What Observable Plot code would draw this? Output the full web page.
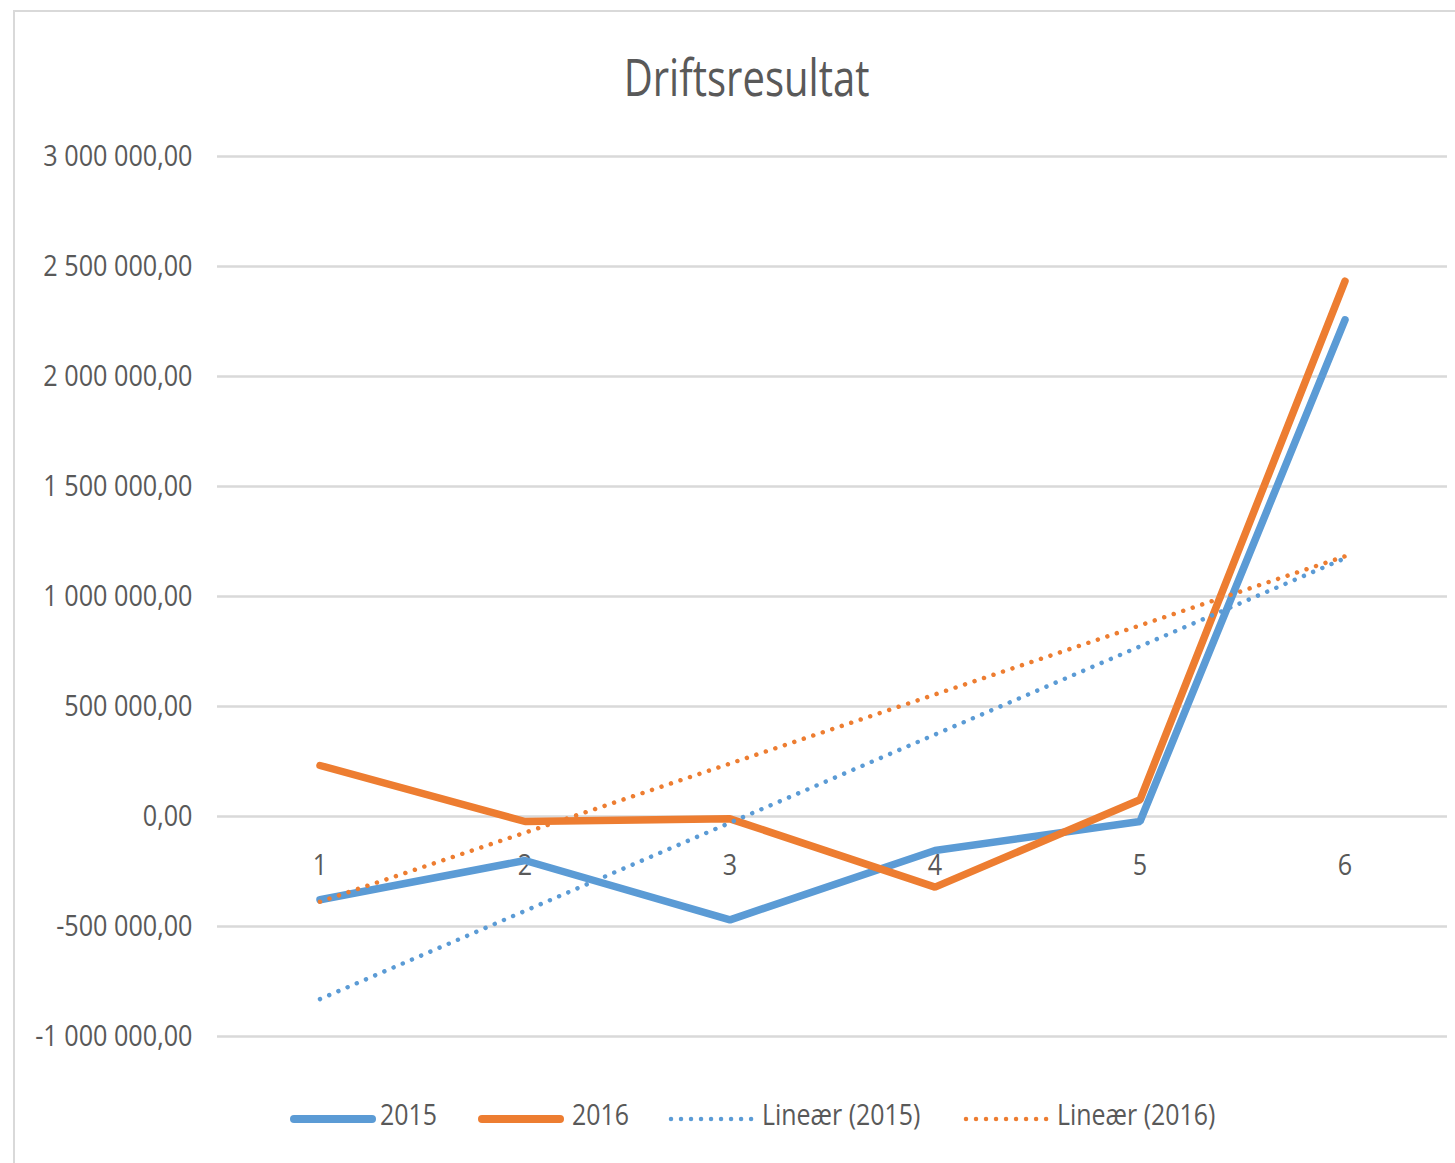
<!DOCTYPE html>
<html>
<head>
<meta charset="utf-8">
<script src="https://cdn.jsdelivr.net/npm/d3@7"></script>
<script src="https://cdn.jsdelivr.net/npm/@observablehq/plot@0.6"></script>
<style>
  html, body { margin: 0; padding: 0; background: #fff; }
  body { width: 1455px; height: 1163px; position: relative; overflow: hidden;
         font-family: "Open Sans", "Liberation Sans", sans-serif; color: #595959; }
  #frame { position: absolute; left: 13px; top: 10px; width: 1500px; height: 1200px;
           border-left: 2.5px solid #d9d9d9; border-top: 2.5px solid #d9d9d9; box-sizing: border-box; }
  #title { position: absolute; left: 0; width: 1494px; top: 44px; text-align: center; font-size: 52px; line-height: 64px; }
  #title span { display: inline-block; transform: scaleX(0.77); transform-origin: center; }
  #chart { position: absolute; left: 0; top: 0; }
  #legend { position: absolute; top: 1094px; left: 0; width: 1455px; height: 40px; }
  .sw { position: absolute; top: 14px; }
  .lt { position: absolute; top: 0; font-size: 30px; line-height: 40px; transform: scaleX(0.83); transform-origin: left center; white-space: nowrap; }
</style>
</head>
<body>
<div id="frame"></div>
<div id="title"><span>Driftsresultat</span></div>
<div id="chart"></div>
<div id="legend"></div>
<script>
// ---- data ----
const periods = [1, 2, 3, 4, 5, 6];
const values2015 = [-378600, -200000, -469700, -154500, -22700, 2257600];
const values2016 = [231800, -22700, -10600, -321000, 75800, 2433000];
const yTicks = [-1000000, -500000, 0, 500000, 1000000, 1500000, 2000000, 2500000, 3000000];
const seriesNames = ["2015", "2016", "Lineær (2015)", "Lineær (2016)"];
const colors = {"2015": "#5B9BD5", "2016": "#ED7D31"};

const rows2015 = periods.map((p, i) => ({x: p, y: values2015[i]}));
const rows2016 = periods.map((p, i) => ({x: p, y: values2016[i]}));

const fmt = d3.formatLocale({decimal: ",", thousands: " ", grouping: [3], currency: ["", ""], minus: "-"}).format(",.2f");

const W = 1455, H = 1070;
const dotted = "0.01 10";

const plot = Plot.plot({
  width: W,
  height: H,
  marginLeft: 217,
  marginRight: 8,
  marginTop: 156,
  marginBottom: H - 1036,
  style: {fontFamily: '"Open Sans", "Liberation Sans", sans-serif', background: "transparent"},
  x: {type: "linear", domain: [0.5, 6.5], axis: null},
  y: {domain: [-1000000, 3000000], axis: null},
  marks: [
    Plot.ruleY(yTicks, {stroke: "#d9d9d9", strokeWidth: 2.5, strokeOpacity: 1}),
    Plot.text(yTicks, {x: 0.5, y: d => d, text: d => fmt(d), textAnchor: "end", dx: -25, fontSize: 30, fill: "#595959"}),
    Plot.text(periods, {x: d => d, y: 0, text: d => String(d), dy: 49, fontSize: 30, fill: "#595959"}),
    Plot.line(rows2015, {x: "x", y: "y", stroke: colors["2015"], strokeWidth: 7.5, strokeLinecap: "round", strokeLinejoin: "miter"}),
    Plot.line(rows2016, {x: "x", y: "y", stroke: colors["2016"], strokeWidth: 7.5, strokeLinecap: "round", strokeLinejoin: "miter"}),
    Plot.linearRegressionY(rows2015, {x: "x", y: "y", ci: 0, stroke: colors["2015"], strokeWidth: 4.5, strokeDasharray: dotted, strokeLinecap: "round"}),
    Plot.linearRegressionY(rows2016, {x: "x", y: "y", ci: 0, stroke: colors["2016"], strokeWidth: 4.5, strokeDasharray: dotted, strokeLinecap: "round"})
  ]
});
// condense text horizontally (Calibri-like narrow look)
plot.querySelectorAll("text").forEach(t => {
  const tr = t.getAttribute("transform");
  if (tr) t.setAttribute("transform", tr + " scale(0.84,1)");
  else {
    const x = +(t.getAttribute("x") || 0);
    t.setAttribute("transform", `translate(${x},0) scale(0.84,1) translate(${-x},0)`);
  }
});
document.getElementById("chart").appendChild(plot);

// ---- legend ----
const legendItems = [
  {name: seriesNames[0], color: colors["2015"], dotted: false, left: 290, textLeft: 380},
  {name: seriesNames[1], color: colors["2016"], dotted: false, left: 478, textLeft: 572},
  {name: seriesNames[2], color: colors["2015"], dotted: true, left: 668, textLeft: 762},
  {name: seriesNames[3], color: colors["2016"], dotted: true, left: 963, textLeft: 1057}
];
const legend = document.getElementById("legend");
for (const it of legendItems) {
  const sw = document.createElement("div");
  sw.className = "sw";
  sw.style.left = it.left + "px";
  sw.innerHTML = it.dotted
    ? `<svg width="88" height="12"><line x1="3" y1="6" x2="85" y2="6" stroke="${it.color}" stroke-width="4.5" stroke-linecap="round" stroke-dasharray="0.01 10"/></svg>`
    : `<svg width="88" height="12"><line x1="4" y1="6" x2="82" y2="6" stroke="${it.color}" stroke-width="8" stroke-linecap="round"/></svg>`;
  legend.appendChild(sw);
  const lt = document.createElement("div");
  lt.className = "lt";
  lt.style.left = it.textLeft + "px";
  lt.textContent = it.name;
  legend.appendChild(lt);
}
</script>
</body>
</html>
